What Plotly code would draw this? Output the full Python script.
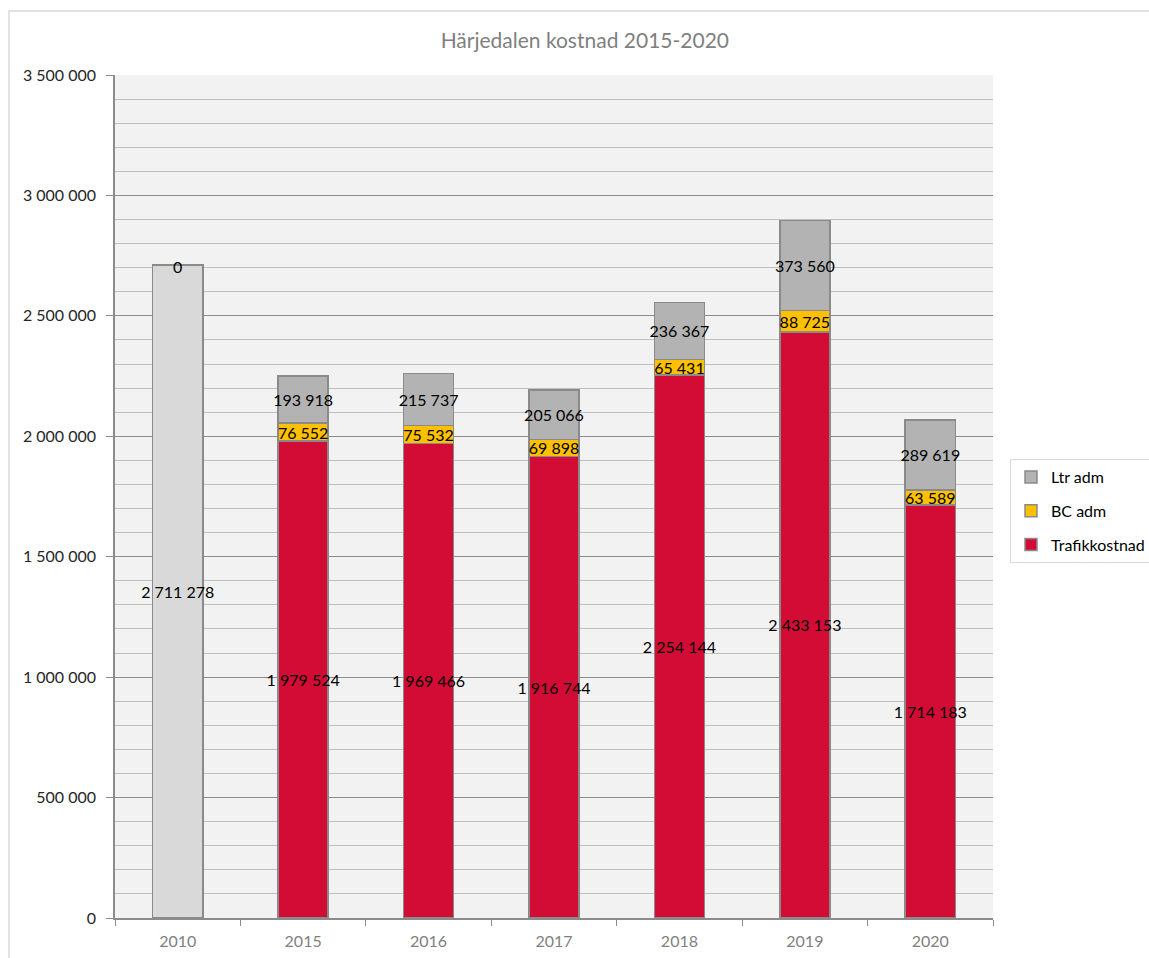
import plotly.graph_objects as go

years = ["2010", "2015", "2016", "2017", "2018", "2019", "2020"]
trafikkostnad = [2711278, 1979524, 1969466, 1916744, 2254144, 2433153, 1714183]
bc_adm = [0, 76552, 75532, 69898, 65431, 88725, 63589]
ltr_adm = [0, 193918, 215737, 205066, 236367, 373560, 289619]


def fmt(v):
    return f"{v:,}".replace(",", " ")


FONT = "Lato"
edge = dict(color="#8a8a8a", width=1.5)
txt = dict(family=FONT, size=16, color="#000000")

fig = go.Figure()
# 2010 reference bar (total, shown in light grey)
fig.add_trace(go.Bar(
    x=years[:1], y=trafikkostnad[:1], name="2010", showlegend=False,
    marker=dict(color="#d9d9d9", line=edge),
    text=[fmt(v) for v in trafikkostnad[:1]], textposition="inside", textangle=0,
    insidetextanchor="middle", constraintext="none", textfont=txt,
))
fig.add_trace(go.Bar(
    x=years[1:], y=trafikkostnad[1:], name="Trafikkostnad", legendrank=3, legendgroup="t",
    marker=dict(color="#d20c34", line=edge),
    text=[fmt(v) for v in trafikkostnad[1:]], textposition="inside", textangle=0,
    insidetextanchor="middle", constraintext="none", textfont=txt,
))
fig.add_trace(go.Bar(
    x=years[1:], y=bc_adm[1:], name="BC adm", legendrank=2, legendgroup="b",
    marker=dict(color="#ffc000", line=edge),
    text=[fmt(v) for v in bc_adm[1:]], textposition="inside", textangle=0,
    insidetextanchor="middle", constraintext="none", textfont=txt,
))
fig.add_trace(go.Bar(
    x=years[1:], y=ltr_adm[1:], name="Ltr adm", legendrank=1, legendgroup="l",
    marker=dict(color="#b3b3b3", line=edge),
    text=[fmt(v) for v in ltr_adm[1:]], textposition="inside", textangle=0,
    insidetextanchor="middle", constraintext="none", textfont=txt,
))

fig.update_layout(
    width=1149, height=958,
    barmode="stack", bargap=0.6,
    separators=", ",
    paper_bgcolor="#ffffff", plot_bgcolor="#f2f2f2",
    margin=dict(l=115, r=156, t=75, b=40, autoexpand=False),
    font=dict(family=FONT, size=15, color="#404040"),
    title=dict(text="Härjedalen kostnad 2015-2020", x=0.509, xanchor="center",
               y=0.958, yanchor="middle",
               font=dict(family=FONT, size=21, color="#7f7f7f")),
    showlegend=True,
    legend=dict(x=(1010 - 115) / 878, xanchor="left", y=(918 - 459) / 843, yanchor="top",
                traceorder="grouped", tracegroupgap=10,
                bordercolor="#d9d9d9", borderwidth=1,
                font=dict(family=FONT, size=16, color="#000000"),
                itemwidth=30),
    annotations=[dict(x=years.index("2010"), y=trafikkostnad[0] + bc_adm[0] + ltr_adm[0],
                      text=fmt(ltr_adm[0]), showarrow=False, yanchor="middle",
                      yshift=-2, font=txt)],
    shapes=[dict(type="rect", xref="paper", yref="paper",
                 x0=(9 - 115) / 878, x1=(1170 - 115) / 878,
                 y0=(918 - 975) / 843, y1=(918 - 11) / 843,
                 line=dict(color="#d9d9d9", width=1.5), layer="below")],
)

fig.update_yaxes(
    range=[0, 3500000], dtick=500000, tickformat=",d",
    showgrid=True, gridcolor="#8c8c8c", gridwidth=1,
    minor=dict(dtick=100000, showgrid=True, gridcolor="#bfbfbf", gridwidth=1, ticks=""),
    showline=True, linecolor="#8c8c8c", linewidth=1.5,
    ticks="outside", ticklen=7, tickcolor="#8c8c8c", ticklabelstandoff=7,
    tickfont=dict(family=FONT, size=16, color="#262626"),
    zeroline=False, fixedrange=True,
)
fig.update_xaxes(
    type="category", tickson="boundaries", categoryorder="array", categoryarray=years,
    range=[-0.5, len(years) - 0.5],
    showline=True, linecolor="#8c8c8c", linewidth=1.5,
    ticks="outside", ticklen=6, tickcolor="#8c8c8c", ticklabelstandoff=8,
    tickfont=dict(family=FONT, size=16, color="#7f7f7f"),
    showgrid=False,
)

fig.write_html("out.html")
